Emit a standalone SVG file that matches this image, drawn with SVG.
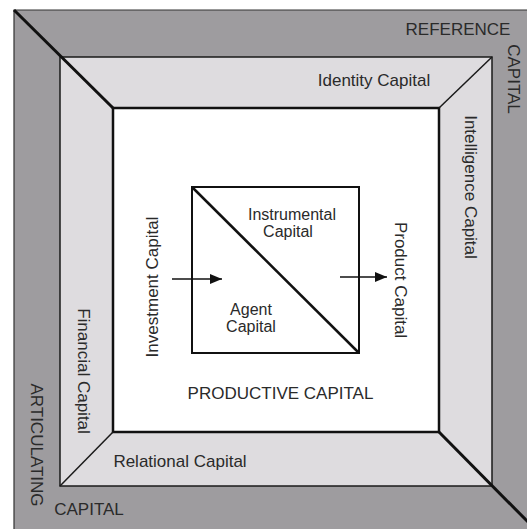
<svg xmlns="http://www.w3.org/2000/svg" width="527" height="529" viewBox="0 0 527 529">
<defs>
<style>
text{font-family:"Liberation Sans",Arial,sans-serif;font-size:17px;fill:#2a2a2a}
.m{text-anchor:middle}
.s{font-size:16px}
.thin{stroke:#1a1a1a;stroke-width:1.5;fill:none}
.ring{stroke:#1a1a1a;stroke-width:1.5;fill:#dedcdf}
.thick{stroke:#111;stroke-width:3;fill:none}
</style>
<marker id="ah" markerWidth="12" markerHeight="10" refX="12" refY="5" orient="auto" markerUnits="userSpaceOnUse">
<path d="M0,0 L12,5 L0,10 Z" fill="#111"/>
</marker>
</defs>
<rect width="527" height="529" fill="#ffffff"/>
<g id="articulating-reference">
<rect x="14" y="10" width="520" height="525" fill="#9e9c9f"/>
<path d="M14,529 V10 H527" stroke="#333" stroke-width="1.2" fill="none"/>
<text class="m" x="458" y="35">REFERENCE</text>
<text class="m" transform="translate(508,79) rotate(90)">CAPITAL</text>
<text class="m" transform="translate(30.5,445) rotate(90)">ARTICULATING</text>
<text class="m" x="89" y="515">CAPITAL</text>
</g>
<g id="middle-ring">
<rect x="60" y="57" width="432" height="429" class="ring"/>
<text class="m" x="374" y="86">Identity Capital</text>
<text class="m" transform="translate(464.5,187) rotate(90)">Intelligence Capital</text>
<text class="m" transform="translate(78,371) rotate(90)">Financial Capital</text>
<text class="m" x="180" y="467">Relational Capital</text>
</g>
<g id="productive-capital">
<rect x="113" y="108" width="326" height="324" fill="#ffffff" stroke="#111" stroke-width="2.5"/>
<text class="m" x="280.5" y="399">PRODUCTIVE CAPITAL</text>
<text class="m" transform="translate(157.5,287) rotate(-90)">Investment Capital</text>
<text class="m" transform="translate(394.5,280) rotate(90)">Product Capital</text>
</g>
<g id="agent-instrumental">
<rect x="192" y="187" width="167" height="166" fill="#ffffff" stroke="#111" stroke-width="2"/>
<text class="m s" x="292" y="220">Instrumental</text>
<text class="m s" x="288" y="237">Capital</text>
<text class="m s" x="251" y="315">Agent</text>
<text class="m s" x="251" y="332">Capital</text>
</g>
<g id="connectors">
<path class="thick" d="M14,10 L113,108"/>
<path class="thick" d="M439,432 L532,526"/>
<path class="thin" d="M492,57 L439,108"/>
<path class="thin" d="M60,486 L113,432"/>
<path d="M192,187 L359,353" stroke="#111" stroke-width="2.5" fill="none"/>
<path d="M172,279 L222,279" stroke="#111" stroke-width="1.5" fill="none" marker-end="url(#ah)"/>
<path d="M340,277 L387,277" stroke="#111" stroke-width="1.5" fill="none" marker-end="url(#ah)"/>
</g>
</svg>
